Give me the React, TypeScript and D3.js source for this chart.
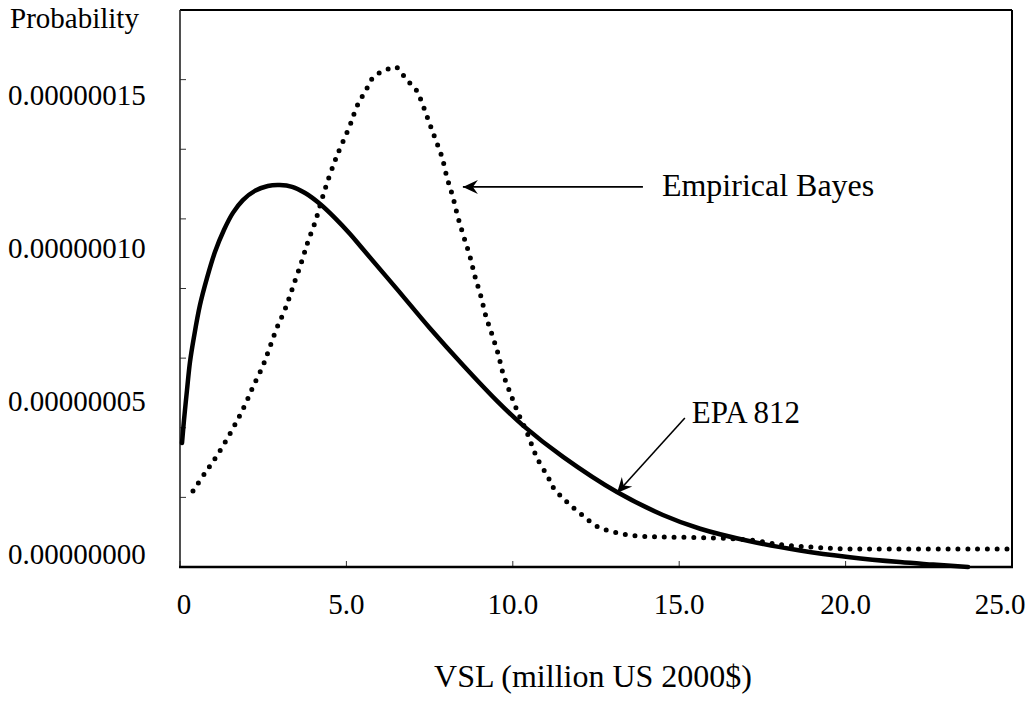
import React from "react";
import * as d3 from "d3";

// ---- Data (VSL in million US 2000$, probability density) ----
const epaX = [0.06, 0.12, 0.21, 0.3, 0.42, 0.6, 0.81, 1.05, 1.32, 1.59, 1.89, 2.25, 2.64, 3.0, 3.37, 3.76, 4.21, 4.66, 5.11, 5.5, 6.52, 7.51, 8.5, 9.53, 10.31, 11.51, 13.13, 14.51, 15.63, 17.13, 18.63, 20.13, 21.63, 22.63, 23.68];
const epaY = [4.05, 4.8, 5.78, 6.7, 7.52, 8.56, 9.44, 10.29, 11.01, 11.57, 11.99, 12.29, 12.45, 12.48, 12.42, 12.22, 11.86, 11.4, 10.88, 10.38, 9.08, 7.8, 6.6, 5.42, 4.62, 3.6, 2.45, 1.7, 1.25, 0.84, 0.54, 0.32, 0.16, 0.08, 0.0].map((v) => v * 1e-8);

const ebX = [0.39, 0.75, 1.08, 1.41, 1.71, 1.98, 2.22, 2.49, 2.7, 2.91, 3.16, 3.37, 3.67, 3.85, 4.06, 4.24, 4.42, 4.63, 4.75, 5.11, 5.32, 5.62, 5.77, 5.98, 6.25, 6.48, 6.7, 6.91, 7.12, 7.24, 7.45, 7.66, 7.87, 8.02, 8.2, 8.35, 8.53, 8.71, 8.86, 9.04, 9.19, 9.38, 9.56, 9.71, 9.92, 10.16, 10.43, 10.73, 11.06, 11.21, 11.63, 12.08, 12.56, 13.16, 13.82, 14.63, 16.02, 17.13, 18.12, 19.02, 19.92, 21.12, 24.85];
const ebY = [2.48, 3.07, 3.59, 4.18, 4.77, 5.36, 5.95, 6.57, 7.19, 7.81, 8.43, 9.08, 10.03, 10.65, 11.27, 11.93, 12.55, 13.2, 13.53, 14.44, 15.06, 15.65, 15.95, 16.14, 16.27, 16.34, 16.08, 15.81, 15.55, 15.26, 14.64, 14.02, 13.4, 12.74, 12.09, 11.44, 10.78, 10.16, 9.51, 8.85, 8.2, 7.58, 6.96, 6.31, 5.69, 5.03, 4.38, 3.56, 2.94, 2.61, 2.12, 1.7, 1.31, 1.11, 1.01, 0.98, 0.95, 0.88, 0.72, 0.65, 0.59, 0.59, 0.59].map((v) => v * 1e-8);

const xTicks = [0, 5, 10, 15, 20, 25];
const xTickLabels = ["0", "5.0", "10.0", "15.0", "20.0", "25.0"];
const yLabelValues = [0, 5e-8, 10e-8, 15e-8];
const yLabels = ["0.00000000", "0.00000005", "0.00000010", "0.00000015"];
const yMax = 18.2e-8;
const yMinorCount = 8;

const W = 1028;
const H = 702;
const left = 180;
const right = 1012;
const top = 10;
const bottom = 567;
const FONT = "'Liberation Serif', 'Times New Roman', serif";
const FS = 29;
const FS_ANN = 32;

export default function App() {
  const x = d3.scaleLinear().domain([0, 25]).range([left, right]);
  const y = d3.scaleLinear().domain([0, yMax]).range([bottom, top]);

  const line = d3
    .line<[number, number]>()
    .x((d) => x(d[0]))
    .y((d) => y(d[1]))
    .curve(d3.curveCatmullRom.alpha(0.5));

  const epa = line(epaX.map((v, i) => [v, epaY[i]] as [number, number])) || "";
  const eb = line(ebX.map((v, i) => [v, ebY[i]] as [number, number])) || "";

  const minorTicks = d3.range(0, yMinorCount + 1).map((i) => (yMax * i) / yMinorCount);

  return (
    <svg
      width={W}
      height={H}
      style={{ position: "absolute", left: 0, top: 0, display: "block", background: "#fff" }}
      fontFamily={FONT}
    >
      <defs>
        <marker id="stealth" viewBox="-16 -8 17 16" refX={0} refY={0} markerWidth={17} markerHeight={16} markerUnits="userSpaceOnUse" orient="auto">
          <path d="M0,0 L-15,-7 L-10,0 L-15,7 Z" fill="#000" />
        </marker>
      </defs>
      <rect x={0} y={0} width={W} height={H} fill="#fff" />

      {/* y minor ticks (inward) */}
      {minorTicks.map((t, i) => (
        <line key={"yt" + i} x1={left} x2={left + 6} y1={y(t)} y2={y(t)} stroke="#333" strokeWidth={1} />
      ))}
      {/* x ticks (inward) */}
      {xTicks.map((t, i) => (
        <line key={"xt" + i} x1={x(t)} x2={x(t)} y1={bottom} y2={bottom - 6} stroke="#333" strokeWidth={1} />
      ))}

      {/* frame */}
      <line x1={left} x2={right} y1={top} y2={top} stroke="#000" strokeWidth={2} />
      <line x1={right} x2={right} y1={top} y2={bottom} stroke="#000" strokeWidth={2} />
      <line x1={left} x2={left} y1={top} y2={bottom} stroke="#222" strokeWidth={1.6} />
      <line x1={left - 1} x2={right + 1} y1={bottom} y2={bottom} stroke="#000" strokeWidth={2.4} />

      {/* curves */}
      <path d={eb} fill="none" stroke="#000" strokeWidth={5} strokeLinecap="round" strokeDasharray="0 9.8" />
      <path d={epa} fill="none" stroke="#000" strokeWidth={4.5} strokeLinecap="round" strokeLinejoin="round" />

      {/* y labels */}
      {yLabelValues.map((v, i) => (
        <text key={"yl" + i} x={8} y={y(v) - 3} fontSize={FS} fill="#000">
          {yLabels[i]}
        </text>
      ))}
      <text x={10} y={28} fontSize={FS} fill="#000">Probability</text>

      {/* x labels */}
      {xTicks.map((t, i) => {
        const cx = Math.min(x(t), W - 28);
        return (
          <text key={"xl" + i} x={i === 0 ? cx + 4 : cx} y={614} fontSize={FS} textAnchor="middle" fill="#000">
            {xTickLabels[i]}
          </text>
        );
      })}
      <text x={593} y={687} fontSize={FS_ANN} textAnchor="middle" fill="#000">
        VSL (million US 2000$)
      </text>

      {/* annotations */}
      <line x1={x(13.91)} y1={y(12.42e-8)} x2={x(8.5)} y2={y(12.42e-8)} stroke="#000" strokeWidth={1.6} markerEnd="url(#stealth)" />
      <text x={x(14.48)} y={y(12.42e-8) + 9} fontSize={FS_ANN} fill="#000">Empirical Bayes</text>

      <line x1={x(15.17)} y1={y(4.87e-8)} x2={x(13.13)} y2={y(2.42e-8)} stroke="#000" strokeWidth={1.6} markerEnd="url(#stealth)" />
      <text x={x(15.38)} y={y(4.71e-8)} fontSize={FS_ANN - 1} fill="#000">EPA 812</text>
    </svg>
  );
}
